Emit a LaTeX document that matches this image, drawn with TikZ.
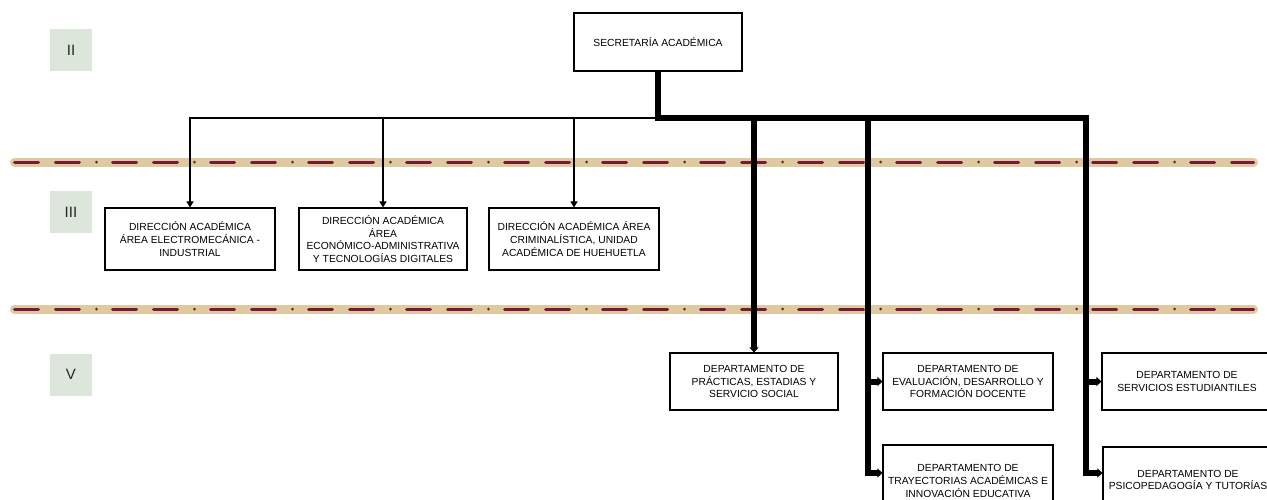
\documentclass[tikz,border=0pt]{standalone}
\usepackage{fontspec}
\setmainfont{Liberation Sans}
\usetikzlibrary{arrows.meta}
\definecolor{lvlfill}{RGB}{220,230,218}
\definecolor{band}{RGB}{223,201,160}
\definecolor{dashred}{RGB}{117,27,55}
\begin{document}
\begin{tikzpicture}[x=1pt,y=-1pt,
  orgbox/.style={draw=black, line width=1.1pt, fill=white, align=center, inner sep=0pt,
    font=\fontsize{10.3}{12.6}\selectfont},
  lvlbox/.style={fill=lvlfill, minimum width=42pt, minimum height=42pt, inner sep=0pt,
    font=\fontsize{15}{18}\selectfont, text=black!85},
  thinarrow/.style={line width=1.3pt, -{Triangle[length=6pt,width=7pt]}},
  thickline/.style={line width=6pt, line join=miter},
  thickarrow/.style={thickline, -{Triangle[length=5pt,width=9pt]}},
  bandline/.style={line width=9pt, line cap=round, color=band},
  dashline/.style={line width=3pt, line cap=round, color=dashred,
    dash pattern=on 24pt off 17pt on 24pt off 17pt on 0pt off 16pt}
]
\useasboundingbox (0,0) rectangle (1267,499);
\clip (0,0) rectangle (1267,499);

% separators
\foreach \yy in {162,309}{
  \draw[bandline] (14.5,\yy) -- (1253.5,\yy);
  \draw[dashline] (14.5,\yy) -- (1253.5,\yy);
}

% level labels
\node[lvlbox] (l2) at (71,50) {II};
\node[lvlbox] (l3) at (71,212) {III};
\node[lvlbox] (l5) at (71,374.5) {V};

% boxes
\node[orgbox, minimum width=168pt, minimum height=58pt] (sec) at (658,42) {SECRETARÍA ACADÉMICA};
\node[orgbox, minimum width=170pt, minimum height=62pt] (d1) at (190,239) {DIRECCIÓN ACADÉMICA\\ÁREA ELECTROMECÁNICA -\\INDUSTRIAL};
\node[orgbox, minimum width=168pt, minimum height=62pt] (d2) at (383,239) {DIRECCIÓN ACADÉMICA\\ÁREA\\ECONÓMICO-ADMINISTRATIVA\\Y TECNOLOGÍAS DIGITALES};
\node[orgbox, minimum width=170pt, minimum height=62pt] (d3) at (574,239) {DIRECCIÓN ACADÉMICA ÁREA\\CRIMINALÍSTICA, UNIDAD\\ACADÉMICA DE HUEHUETLA};
\node[orgbox, minimum width=168pt, minimum height=57pt] (p1) at (754,381.5) {DEPARTAMENTO DE\\PRÁCTICAS, ESTADIAS Y\\SERVICIO SOCIAL};
\node[orgbox, minimum width=170pt, minimum height=57pt] (p2) at (968,381.5) {DEPARTAMENTO DE\\EVALUACIÓN, DESARROLLO Y\\FORMACIÓN DOCENTE};
\node[orgbox, minimum width=170pt, minimum height=57pt] (p3) at (1187,381.5) {DEPARTAMENTO DE\\SERVICIOS ESTUDIANTILES};
\node[orgbox, minimum width=170pt, minimum height=72pt] (p4) at (968,481) {DEPARTAMENTO DE\\TRAYECTORIAS ACADÉMICAS E\\INNOVACIÓN EDUCATIVA};
\node[orgbox, minimum width=170pt, minimum height=66pt] (p5) at (1188,480) {DEPARTAMENTO DE\\PSICOPEDAGOGÍA Y TUTORÍAS};

% junction coordinates
\coordinate (j) at (658,118);
\coordinate (c2) at (868,118);
\coordinate (c3) at (1086,118);

% thin connectors
\draw[thinarrow] (j) -| (d1.north);
\draw[thinarrow] (j) -| (d2.north);
\draw[thinarrow] (j) -| (d3.north);

% thick connectors
\draw[thickline] (sec.south) -- (j) -- ([xshift=3pt]c3);
\draw[thickarrow] (j) -| (p1.north);
\draw[thickarrow] (c2) |- (p2.west);
\draw[thickarrow] (c2) |- ([yshift=8pt]p4.west);
\draw[thickarrow] (c3) |- (p3.west);
\draw[thickarrow] (c3) |- ([yshift=7pt]p5.west);
\end{tikzpicture}
\end{document}
